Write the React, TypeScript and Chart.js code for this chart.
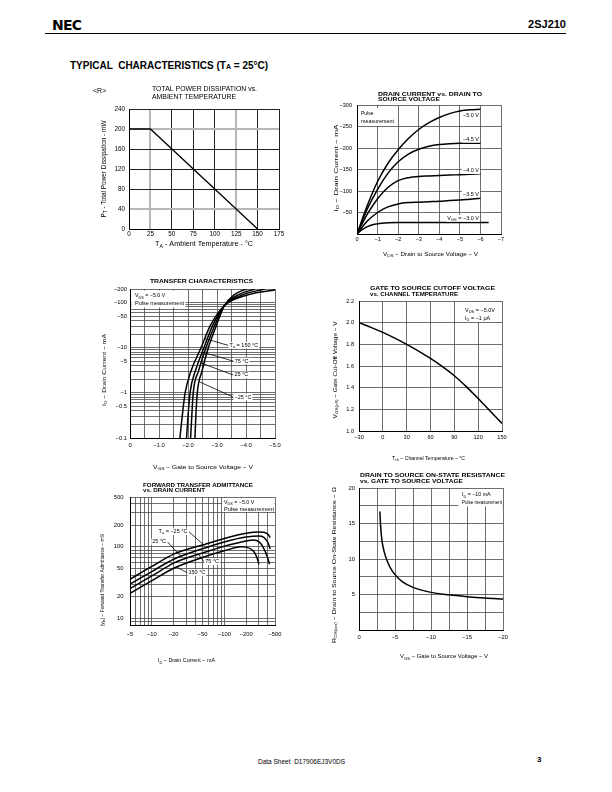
import React, { useEffect, useRef } from "react";
import { Chart, registerables } from "chart.js";

Chart.register(...registerables);

const FONT = '"Liberation Sans", Arial, Helvetica, sans-serif';
const M = "\u2212";

// ---------- Chart 1: Total power dissipation vs ambient temperature ----------
const pdTemperature = [0, 25, 150];
const pdPower = [200, 200, 0];

// ---------- Chart 2: Drain current vs drain-to-source voltage ----------
const dcVds = [0, -0.5, -1, -1.5, -2, -2.5, -3, -3.5, -4, -4.5, -5, -5.5, -6];
const dcId50 = [0, -66, -122, -164, -196, -222, -243, -259, -271, -280, -286, -289, -290];
const dcId45 = [0, -58, -104, -141, -168, -186, -197, -204, -208, -210, -211, -211, -211];
const dcId40 = [0, -46, -82, -108, -124, -131, -134, -135, -136, -137, -138, -139, -140];
const dcId35 = [0, -30, -50, -63, -70, -73, -74, -75, -76, -78, -79, -81, -83];
const dcVds30 = [0, -0.25, -0.5, -0.75, -1, -1.5, -2, -3, -4, -5, -6, -6.4];
const dcId30 = [0, -10, -17, -21.5, -24, -26, -26.5, -26.5, -27, -27, -27, -27];

// ---------- Chart 3: Transfer characteristics (|ID| in mA, log) ----------
const tcId = [0.1, 0.3, 1, 3, 10, 30, 85, 150, 200];
const tcVgsM25 = [-2.24, -2.27, -2.32, -2.48, -2.7, -2.97, -3.25, -3.6, -4.0];
const tcVgs25 = [-2.09, -2.13, -2.18, -2.36, -2.62, -2.91, -3.25, -3.75, -4.3];
const tcVgs75 = [-1.95, -2.0, -2.07, -2.25, -2.55, -2.84, -3.25, -3.9, -4.65];
const tcId150 = [0.1, 0.3, 1, 3, 10, 30, 85, 150, 190];
const tcVgs150 = [-1.72, -1.8, -1.9, -2.1, -2.45, -2.76, -3.25, -4.1, -5.0];

// ---------- Chart 4: Gate cut-off voltage vs channel temperature ----------
const coTemp = [-30, -15, 0, 15, 30, 45, 60, 75, 90, 105, 120, 135, 150];
const coVoff = [2.0, 1.957, 1.91, 1.857, 1.8, 1.737, 1.67, 1.594, 1.51, 1.41, 1.3, 1.185, 1.07];

// ---------- Chart 5: Forward transfer admittance vs |ID| (mA) ----------
const fyIdA = [5, 10, 20, 50, 100, 200, 300, 350, 400, 430];
const fyM25 = [35, 53, 79, 106, 131, 155, 162, 160, 150, 135];
const fy25 = [30, 45, 67, 94, 117, 137, 142, 136, 115, 93];
const fyId75 = [5, 10, 20, 50, 100, 200, 250, 300, 350, 400, 420];
const fy75 = [26, 39, 59, 82, 102, 121, 125, 118, 95, 68, 57];
const fyId150 = [5, 10, 20, 50, 100, 170, 200, 250, 280, 300];
const fy150 = [22.3, 33.5, 50, 71, 88, 100, 99, 88, 72, 57];

// ---------- Chart 6: RDS(on) vs VGS ----------
const rdVgs = [-2.9, -2.95, -3.0, -3.1, -3.25, -3.5, -4, -4.5, -5, -6, -7.5, -10, -12.5, -15, -17.5, -20];
const rdOhm = [16.7, 15.6, 14.7, 13.4, 12.2, 11.0, 9.5, 8.5, 7.8, 6.8, 6.0, 5.3, 4.95, 4.7, 4.5, 4.35];

// tick lists
const tcYGrid = [0.1, 0.2, 0.3, 0.4, 0.5, 0.6, 0.7, 0.8, 0.9, 1, 2, 3, 4, 5, 6, 7, 8, 9, 10, 20, 30, 40, 50, 60, 70, 80, 90, 100, 200];
const tcYLabels = [0.1, 0.5, 1, 5, 10, 50, 100, 200];
const fyXGrid = [5, 6, 7, 8, 9, 10, 20, 30, 40, 50, 60, 70, 80, 90, 100, 200, 300, 400, 500];
const fyXLabels = [5, 10, 20, 50, 100, 200, 500];
const fyYGrid = [8, 9, 10, 20, 30, 40, 50, 60, 70, 80, 90, 100, 200, 300, 400, 500];
const fyYLabels = [10, 20, 50, 100, 200, 500];

type Box = { cx: number; cy: number; cw: number; ch: number; L: number; T: number; R: number; B: number };
type TextItem = {
  t: string; x: number; y: number; size: number;
  align?: "left" | "center" | "right"; rot?: boolean; bold?: boolean; w?: number; bg?: boolean;
};
type Leader = { from: [number, number]; to: [number, number]; label: string; at: "from" | "to"; align: "left" | "right" };

function parseRich(s: string) {
  const out: { t: string; sub: boolean }[] = [];
  const re = /_\{([^}]*)\}/g;
  let last = 0;
  let m: RegExpExecArray | null;
  while ((m = re.exec(s))) {
    if (m.index > last) out.push({ t: s.slice(last, m.index), sub: false });
    out.push({ t: m[1], sub: true });
    last = m.index + m[0].length;
  }
  if (last < s.length) out.push({ t: s.slice(last), sub: false });
  return out;
}

function drawRich(ctx: CanvasRenderingContext2D, it: TextItem, ox: number, oy: number) {
  const segs = parseRich(it.t);
  const fontFor = (sub: boolean) => `${it.bold ? "bold " : ""}${sub ? it.size * 0.72 : it.size}px ${FONT}`;
  let total = 0;
  const widths = segs.map((s) => {
    ctx.font = fontFor(s.sub);
    const w = ctx.measureText(s.t).width;
    total += w;
    return w;
  });
  const sx = it.w ? it.w / total : 1;
  ctx.save();
  ctx.translate(it.x - ox, it.y - oy);
  if (it.rot) ctx.rotate(-Math.PI / 2);
  ctx.scale(sx, 1);
  const start = it.align === "center" ? -total / 2 : it.align === "right" ? -total : 0;
  if (it.bg) {
    ctx.fillStyle = "#fff";
    ctx.fillRect(start - 1, -it.size * 0.6, total + 2, it.size * 1.2);
  }
  ctx.fillStyle = "#000";
  ctx.textBaseline = "middle";
  ctx.textAlign = "left";
  let x = start;
  segs.forEach((s, i) => {
    ctx.font = fontFor(s.sub);
    ctx.fillText(s.t, x, s.sub ? it.size * 0.28 : 0);
    x += widths[i];
  });
  ctx.restore();
}

function overlay(box: Box, texts: TextItem[], leaders: Leader[], whites: number[][], leaderSize: number) {
  return {
    id: "overlay",
    afterDraw(chart: any) {
      const ctx = chart.ctx as CanvasRenderingContext2D;
      ctx.save();
      whites.forEach(([x, y, w, h]) => {
        ctx.fillStyle = "#fff";
        ctx.fillRect(x - box.cx, y - box.cy, w, h);
      });
      const xs = chart.scales.x;
      const ys = chart.scales.y;
      leaders.forEach((ld) => {
        const x1 = xs.getPixelForValue(ld.from[0]);
        const y1 = ys.getPixelForValue(ld.from[1]);
        const x2 = xs.getPixelForValue(ld.to[0]);
        const y2 = ys.getPixelForValue(ld.to[1]);
        ctx.strokeStyle = "#000";
        ctx.lineWidth = 0.8;
        ctx.beginPath();
        ctx.moveTo(x1, y1);
        ctx.lineTo(x2, y2);
        ctx.stroke();
        const px = ld.at === "from" ? x1 : x2;
        const py = ld.at === "from" ? y1 : y2;
        drawRich(ctx, { t: ld.label, x: px + (ld.align === "left" ? 1.5 : -1.5) + box.cx, y: py + box.cy, size: leaderSize, align: ld.align, bg: true }, box.cx, box.cy);
      });
      texts.forEach((t) => drawRich(ctx, t, box.cx, box.cy));
      ctx.restore();
    },
  };
}

const pts = (xs: number[], ys: number[]) => xs.map((x, i) => ({ x, y: ys[i] }));
const curve = (xs: number[], ys: number[], w = 1.5) => ({
  data: pts(xs, ys),
  borderColor: "#000",
  borderWidth: w,
  pointRadius: 0,
  fill: false,
  cubicInterpolationMode: "monotone",
});
const fmtNeg = (v: number, d = 0) => (Math.abs(v) < 1e-9 ? "0" : (v < 0 ? M : "") + Math.abs(v).toFixed(d));
const near = (list: number[], v: number) => list.some((u) => Math.abs(u - v) < 1e-6 * Math.max(1, Math.abs(u)));

function makeConfig(p: {
  box: Box; datasets: any[]; x: any; y: any; xPad: number; yPad: number; tickSize: number;
  texts: TextItem[]; leaders?: Leader[]; whites?: number[][]; leaderSize?: number;
  xGrid?: any; yGrid?: any;
}) {
  const { box } = p;
  const tickFont = { family: FONT, size: p.tickSize };
  const grid = { color: "#4a4a4a", lineWidth: 0.8, drawTicks: false };
  const border = { display: true, color: "#000", width: 1 };
  const { ticks: xt, ...xRest } = p.x;
  const { ticks: yt, ...yRest } = p.y;
  return {
    type: "line",
    data: { datasets: p.datasets },
    options: {
      responsive: false,
      animation: false,
      events: [],
      layout: { padding: { left: 0, top: box.T - box.cy, right: box.cx + box.cw - box.R, bottom: 0 } },
      plugins: { legend: { display: false }, tooltip: { enabled: false }, title: { display: false } },
      scales: {
        x: {
          ...xRest,
          grid: { ...grid, ...(p.xGrid || {}) },
          border,
          ticks: { autoSkip: false, maxRotation: 0, minRotation: 0, padding: p.xPad, color: "#000", font: tickFont, ...xt },
          afterFit: (s: any) => { s.height = box.cy + box.ch - box.B; },
        },
        y: {
          ...yRest,
          grid: { ...grid, ...(p.yGrid || {}) },
          border,
          ticks: { autoSkip: false, padding: p.yPad, color: "#000", font: tickFont, ...yt },
          afterFit: (s: any) => { s.width = box.L - box.cx; },
        },
      },
    },
    plugins: [overlay(box, p.texts, p.leaders || [], p.whites || [], p.leaderSize || 5.5)],
  };
}

// ---------------- chart specs ----------------
const box1: Box = { cx: 88, cy: 80, cw: 215, ch: 175, L: 129, T: 109, R: 279, B: 229 };
const box2: Box = { cx: 325, cy: 85, cw: 190, ch: 178, L: 357, T: 105, R: 501, B: 234 };
const box3: Box = { cx: 90, cy: 272, cw: 200, ch: 203, L: 130, T: 289, R: 275, B: 438 };
const box4: Box = { cx: 325, cy: 280, cw: 190, ch: 185, L: 359, T: 301, R: 502, B: 431 };
const box5: Box = { cx: 90, cy: 475, cw: 200, ch: 193, L: 130, T: 497, R: 275, B: 625 };
const box6: Box = { cx: 325, cy: 466, cw: 190, ch: 200, L: 359, T: 488, R: 503, B: 630 };

const special1x = [25, 125];
const special1y = [40, 200];

const make1 = () =>
  makeConfig({
    box: box1,
    datasets: [{ ...curve(pdTemperature, pdPower, 1.3), cubicInterpolationMode: "default", tension: 0 }],
    x: { type: "linear", min: 0, max: 175, ticks: { stepSize: 25 } },
    y: { type: "linear", min: 0, max: 240, ticks: { stepSize: 40 } },
    xGrid: {
      color: (c: any) => (special1x.includes(c.tick?.value) ? "#b8b8b8" : "#222"),
      lineWidth: (c: any) => (special1x.includes(c.tick?.value) ? 2 : 1),
    },
    yGrid: {
      color: (c: any) => (special1y.includes(c.tick?.value) ? "#b8b8b8" : "#222"),
      lineWidth: (c: any) => (special1y.includes(c.tick?.value) ? 2 : 1),
    },
    xPad: 1.5,
    yPad: 4,
    tickSize: 6.3,
    texts: [
      { t: "<R>", x: 93, y: 91.5, size: 7 },
      { t: "TOTAL POWER DISSIPATION vs.", x: 152, y: 89.5, size: 6.5, w: 105 },
      { t: "AMBIENT TEMPERATURE", x: 152, y: 97, size: 6.5, w: 84 },
      { t: "P_{T} - Total Power Dissipation - mW", x: 104, y: 169, size: 6.3, rot: true, align: "center", w: 97 },
      { t: "T_{A} - Ambient Temperature - \u00B0C", x: 204, y: 244.5, size: 6.3, align: "center", w: 98 },
    ],
  });

const make2 = () =>
  makeConfig({
    box: box2,
    datasets: [
      curve(dcVds, dcId50),
      curve(dcVds, dcId45),
      curve(dcVds, dcId40),
      curve(dcVds, dcId35),
      curve(dcVds30, dcId30),
    ],
    x: { type: "linear", min: -7, max: 0, reverse: true, ticks: { stepSize: 1, callback: (v: number) => fmtNeg(v) } },
    y: { type: "linear", min: -300, max: 0, reverse: true, ticks: { stepSize: 50, callback: (v: number) => (v === 0 ? "" : fmtNeg(v)) } },
    xPad: 2.5,
    yPad: 5,
    tickSize: 5.6,
    whites: [[358, 108, 36, 18]],
    texts: [
      { t: "DRAIN CURRENT vs. DRAIN TO", x: 378, y: 94, size: 5.8, bold: true, w: 104 },
      { t: "SOURCE VOLTAGE", x: 378, y: 99.8, size: 5.8, bold: true, w: 62 },
      { t: "I_{D} \u2212 Drain Current \u2212 mA", x: 336, y: 168, size: 6, rot: true, align: "center", w: 87 },
      { t: "V_{DS} \u2212 Drain to Source Voltage \u2212 V", x: 430.5, y: 254, size: 6, align: "center", w: 95 },
      { t: "Pulse", x: 361, y: 113.5, size: 5 },
      { t: "measurement", x: 361, y: 122, size: 5, w: 33 },
      { t: `${M}5.0 V`, x: 479, y: 115, size: 5.5, align: "right", bg: true },
      { t: `${M}4.5 V`, x: 479, y: 139.3, size: 5.5, align: "right", bg: true },
      { t: `${M}4.0 V`, x: 479, y: 170.7, size: 5.5, align: "right", bg: true },
      { t: `${M}3.5 V`, x: 479, y: 194, size: 5.5, align: "right", bg: true },
      { t: `V_{GS} = ${M}3.0 V`, x: 479, y: 218.3, size: 5.5, align: "right", bg: true },
    ],
  });

const make3 = () =>
  makeConfig({
    box: box3,
    datasets: [
      curve(tcVgs150, tcId150),
      curve(tcVgs75, tcId),
      curve(tcVgs25, tcId),
      curve(tcVgsM25, tcId),
    ],
    x: {
      type: "linear", min: -5, max: 0, reverse: true,
      ticks: { stepSize: 0.5, callback: (v: number) => (Math.abs(v - Math.round(v)) < 1e-6 ? (v === 0 ? "0" : fmtNeg(v, 1)) : "") },
    },
    y: {
      type: "logarithmic", min: 0.1, max: 200,
      afterBuildTicks: (s: any) => { s.ticks = tcYGrid.map((v) => ({ value: v })); },
      ticks: { callback: (v: number) => (near(tcYLabels, v) ? M + String(v) : "") },
    },
    xPad: 3.5,
    yPad: 3,
    tickSize: 5.8,
    whites: [[131.5, 290.5, 54, 17]],
    leaderSize: 5.5,
    leaders: [
      { from: [-2.58, 16], to: [-3.38, 11.3], label: "T_{a} = 150 \u00B0C", at: "to", align: "left" },
      { from: [-2.49, 8], to: [-3.56, 5.06], label: "75 \u00B0C", at: "to", align: "left" },
      { from: [-2.45, 4.6], to: [-3.55, 2.5], label: "25 \u00B0C", at: "to", align: "left" },
      { from: [-2.4, 1.75], to: [-3.55, 0.81], label: `${M}25 \u00B0C`, at: "to", align: "left" },
    ],
    texts: [
      { t: "TRANSFER CHARACTERISTICS", x: 201.5, y: 281, size: 5.8, bold: true, align: "center", w: 103 },
      { t: "I_{D} \u2212 Drain Current \u2212 mA", x: 104, y: 370, size: 6, rot: true, align: "center", w: 72 },
      { t: "V_{GS} \u2212 Gate to Source Voltage \u2212 V", x: 203, y: 467, size: 6, align: "center", w: 100 },
      { t: `V_{DS} = ${M}5.0 V`, x: 135, y: 296, size: 5.3 },
      { t: "Pulse measurement", x: 135, y: 304, size: 5.3, w: 49 },
    ],
  });

const make4 = () =>
  makeConfig({
    box: box4,
    datasets: [curve(coTemp, coVoff)],
    x: { type: "linear", min: -30, max: 150, ticks: { stepSize: 30, callback: (v: number) => fmtNeg(v) } },
    y: { type: "linear", min: 1.0, max: 2.2, ticks: { stepSize: 0.2, callback: (v: number) => v.toFixed(1) } },
    xPad: 3,
    yPad: 5,
    tickSize: 5.6,
    whites: [[461.5, 302, 40, 20]],
    texts: [
      { t: "GATE TO SOURCE CUTOFF VOLTAGE", x: 370, y: 288.3, size: 5.8, bold: true, w: 125 },
      { t: "vs. CHANNEL TEMPERATURE", x: 370, y: 294.5, size: 5.8, bold: true, w: 88 },
      { t: "V_{GS(off)} \u2212 Gate Cut-Off Voltage \u2212 V", x: 335, y: 370, size: 6, rot: true, align: "center", w: 97 },
      { t: "T_{ch} \u2212 Channel Temperature \u2212 \u00B0C", x: 428.5, y: 458.3, size: 6, align: "center", w: 73 },
      { t: `V_{DS} = ${M}5.0V`, x: 465, y: 310, size: 5.5 },
      { t: `I_{D} = ${M}1 \u03BCA`, x: 465, y: 318, size: 5.5 },
    ],
  });

const make5 = () =>
  makeConfig({
    box: box5,
    datasets: [
      curve(fyIdA, fyM25),
      curve(fyIdA, fy25),
      curve(fyId75, fy75),
      curve(fyId150, fy150),
    ],
    x: {
      type: "logarithmic", min: 5, max: 500,
      afterBuildTicks: (s: any) => { s.ticks = fyXGrid.map((v) => ({ value: v })); },
      ticks: { callback: (v: number) => (near(fyXLabels, v) ? M + String(v) : "") },
    },
    y: {
      type: "logarithmic", min: 8, max: 500,
      afterBuildTicks: (s: any) => { s.ticks = fyYGrid.map((v) => ({ value: v })); },
      ticks: { callback: (v: number) => (near(fyYLabels, v) ? String(v) : "") },
    },
    xPad: 5.5,
    yPad: 6.5,
    tickSize: 5.8,
    whites: [[222, 498, 52.5, 14]],
    leaderSize: 5.5,
    leaders: [
      { from: [32.5, 163], to: [52, 106], label: `T_{a} = ${M}25 \u00B0C`, at: "from", align: "right" },
      { from: [16.5, 117], to: [25.6, 72], label: "25 \u00B0C", at: "from", align: "right" },
      { from: [44, 79], to: [52, 62], label: "75 \u00B0C", at: "to", align: "left" },
      { from: [22, 52], to: [30.5, 43.5], label: "150 \u00B0C", at: "to", align: "left" },
    ],
    texts: [
      { t: "FORWARD TRANSFER ADMITTANCE", x: 143, y: 485, size: 5.8, bold: true, w: 110 },
      { t: "vs. DRAIN CURRENT", x: 143, y: 490.8, size: 5.8, bold: true, w: 62 },
      { t: `|y_{fs}| ${M} Forward Transfer Admittance ${M} mS`, x: 102, y: 580, size: 6, rot: true, align: "center", w: 92 },
      { t: `I_{D} ${M} Drain Current ${M} mA`, x: 186.5, y: 660.7, size: 6, align: "center", w: 57 },
      { t: `V_{DS} = ${M}5.0 V`, x: 224, y: 502.5, size: 5.3 },
      { t: "Pulse measurement", x: 224, y: 509.3, size: 5.3, w: 50 },
    ],
  });

const make6 = () =>
  makeConfig({
    box: box6,
    datasets: [curve(rdVgs, rdOhm)],
    x: {
      type: "linear", min: -20, max: 0, reverse: true,
      ticks: { stepSize: 2.5, callback: (v: number) => (Math.abs(v % 5) < 1e-6 ? fmtNeg(v) : "") },
    },
    y: {
      type: "linear", min: 0, max: 20,
      ticks: { stepSize: 2.5, callback: (v: number) => (v !== 0 && Math.abs(v % 5) < 1e-6 ? String(v) : "") },
    },
    xPad: 3.5,
    yPad: 4,
    tickSize: 5.8,
    whites: [[458.5, 489, 44, 17.5]],
    texts: [
      { t: "DRAIN TO SOURCE ON-STATE RESISTANCE", x: 360, y: 475.7, size: 5.8, bold: true, w: 145 },
      { t: "vs. GATE TO SOURCE VOLTAGE", x: 360, y: 481.2, size: 5.8, bold: true, w: 103 },
      { t: `R_{DS(on)} ${M} Drain to Source On-State Resistance ${M} \u03A9`, x: 334, y: 565, size: 6, rot: true, align: "center", w: 156 },
      { t: `V_{GS} ${M} Gate to Source Voltage ${M} V`, x: 444, y: 656.7, size: 6, align: "center", w: 88 },
      { t: `I_{D} = ${M}10 mA`, x: 462, y: 495, size: 5.3 },
      { t: "Pulse measurement", x: 462, y: 502.7, size: 5.3, w: 40 },
    ],
  });

function ChartCanvas({ make, box }: { make: () => any; box: Box }) {
  const ref = useRef<HTMLCanvasElement>(null);
  useEffect(() => {
    if (!ref.current) return;
    const c = new Chart(ref.current, make());
    return () => c.destroy();
  }, []);
  return (
    <canvas
      ref={ref}
      width={box.cw}
      height={box.ch}
      style={{ position: "absolute", left: box.cx, top: box.cy, width: box.cw, height: box.ch }}
    />
  );
}

const txt = (x: number, cy: number, size: number, extra: any = {}) => ({
  position: "absolute" as const,
  left: x,
  top: cy - size * 0.6,
  fontSize: size,
  lineHeight: `${size * 1.2}px`,
  fontFamily: FONT,
  whiteSpace: "pre" as const,
  color: "#000",
  ...extra,
});

export default function App() {
  return (
    <div style={{ position: "absolute", left: 0, top: 0, width: 612, height: 792, background: "#fff", overflow: "hidden" }}>
      <div style={txt(52, 25, 14, { fontWeight: 900, fontFamily: '"DejaVu Sans", sans-serif', letterSpacing: -0.8 })}>NEC</div>
      <div style={txt(0, 25, 11, { left: undefined, right: 46, fontWeight: 700 })}>2SJ210</div>
      <div style={{ position: "absolute", left: 45, top: 33, width: 521, height: 1, background: "#000" }} />
      <div style={txt(70, 66, 10, { fontWeight: 700 })}>
        {"TYPICAL  CHARACTERISTICS (T"}
        <span style={{ fontSize: 7 }}>A</span>
        {" = 25\u00B0C)"}
      </div>
      <ChartCanvas make={make1} box={box1} />
      <ChartCanvas make={make2} box={box2} />
      <ChartCanvas make={make3} box={box3} />
      <ChartCanvas make={make4} box={box4} />
      <ChartCanvas make={make5} box={box5} />
      <ChartCanvas make={make6} box={box6} />
      <div style={txt(258, 762, 6.5)}>Data Sheet  D17906EJ3V0DS</div>
      <div style={txt(537, 760, 8, { fontWeight: 700 })}>3</div>
    </div>
  );
}
